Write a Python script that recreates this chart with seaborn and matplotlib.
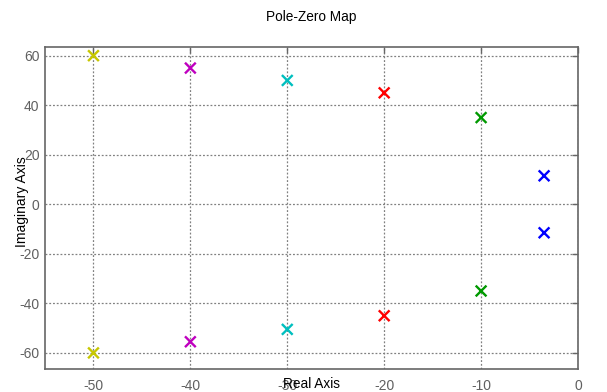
import matplotlib
matplotlib.use("Agg")
import matplotlib.pyplot as plt
import seaborn as sns
import pandas as pd

# Pole locations (real, imaginary) for each conjugate pair
real_parts = [-50, -50, -40, -40, -30, -30, -20, -20, -10, -10, -3.5, -3.5]
imag_parts = [60, -60, 55, -55.5, 50, -50.5, 45, -45, 35, -35, 11.5, -11.5]
pair_ids = ["p1", "p1", "p2", "p2", "p3", "p3", "p4", "p4", "p5", "p5", "p6", "p6"]
pair_colors = {
    "p1": (0.78, 0.78, 0.0),
    "p2": (0.75, 0.0, 0.75),
    "p3": (0.0, 0.75, 0.75),
    "p4": (1.0, 0.0, 0.0),
    "p5": (0.0, 0.6, 0.0),
    "p6": (0.0, 0.0, 1.0),
}
x_ticks = [-50, -40, -30, -20, -10, 0]
y_ticks = [-60, -40, -20, 0, 20, 40, 60]

df = pd.DataFrame({"re": real_parts, "im": imag_parts, "pair": pair_ids})

sns.set_style("white")
plt.rcParams["font.family"] = ["Liberation Sans", "DejaVu Sans"]
plt.rcParams["axes.unicode_minus"] = False

fig = plt.figure(figsize=(6.07, 3.92), dpi=100)
ax = fig.add_axes([45 / 607, 1 - 369 / 392, (578 - 45) / 607, (369 - 47) / 392])

sns.scatterplot(data=df, x="re", y="im", hue="pair", palette=pair_colors,
                marker="x", s=60, linewidth=1.7, legend=False, ax=ax, zorder=3)

ax.set_xlim(-55, 0)
ax.set_ylim(-66.5, 63.5)
ax.set_xticks(x_ticks)
ax.set_yticks(y_ticks)
ax.grid(True, color="#808080", linestyle=(0, (1.5, 1.5)), linewidth=0.9)
ax.set_axisbelow(True)

for s in ax.spines.values():
    s.set_color("#666666")
    s.set_linewidth(1.2)

ax.tick_params(axis="both", direction="in", length=4, width=1, color="#666666",
               labelcolor="#606060", labelsize=10, top=True, right=True)
ax.tick_params(axis="x", pad=7)
ax.tick_params(axis="y", pad=4)

ax.set_xlabel("Real Axis", fontsize=9.8, color="black")
ax.xaxis.set_label_coords(0.5, -0.026)
ax.set_ylabel("Imaginary Axis", fontsize=10, color="black")
ax.yaxis.set_label_coords(-0.03, 0.52)
ax.set_title("Pole-Zero Map", fontsize=9.8, color="black", pad=19)

fig.savefig("out.png", dpi=100)
